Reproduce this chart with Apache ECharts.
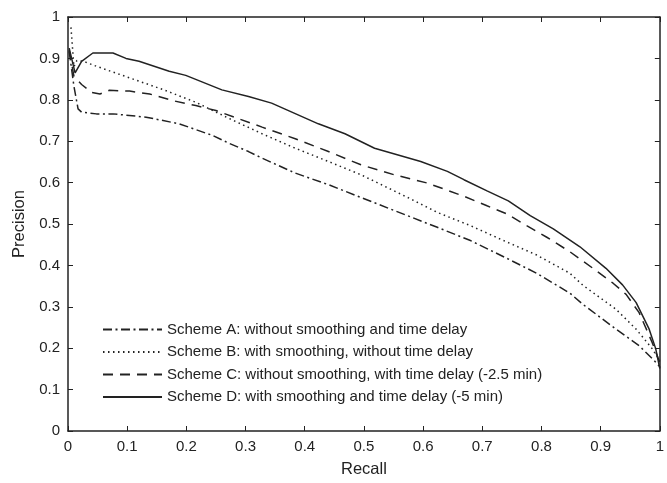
<!DOCTYPE html>
<html>
<head>
<meta charset="utf-8">
<script src="https://cdn.jsdelivr.net/npm/echarts@6/dist/echarts.min.js"></script>
<style>
  html, body { margin: 0; padding: 0; background: #fff; }
  #chart { width: 667px; height: 483px; }
</style>
</head>
<body>
<div id="chart"></div>
<script>
var tickLabelsX = ['0', '0.1', '0.2', '0.3', '0.4', '0.5', '0.6', '0.7', '0.8', '0.9', '1']
var tickLabelsY = ['0', '0.1', '0.2', '0.3', '0.4', '0.5', '0.6', '0.7', '0.8', '0.9', '1']

var seriesNames = [
  'Scheme A: without smoothing and time delay',
  'Scheme B: with smoothing, without time delay',
  'Scheme C: without smoothing, with time delay (-2.5 min)',
  'Scheme D: with smoothing and time delay (-5 min)'
]

var recallA = [0.002, 0.01, 0.017, 0.023, 0.048, 0.076, 0.132, 0.188, 0.244, 0.272, 0.305, 0.328, 0.384, 0.44, 0.495, 0.624, 0.68, 0.736, 0.792, 0.848, 0.87, 0.926, 0.965, 0.99, 1.0]
var precisionA = [0.917, 0.833, 0.778, 0.77, 0.766, 0.766, 0.758, 0.742, 0.714, 0.695, 0.675, 0.659, 0.623, 0.595, 0.564, 0.492, 0.46, 0.421, 0.381, 0.333, 0.306, 0.246, 0.206, 0.171, 0.155]

var recallB = [0.005, 0.01, 0.015, 0.026, 0.048, 0.104, 0.16, 0.216, 0.272, 0.328, 0.384, 0.44, 0.495, 0.574, 0.624, 0.68, 0.736, 0.792, 0.848, 0.87, 0.926, 0.96, 0.987, 1.0]
var precisionB = [0.975, 0.88, 0.895, 0.893, 0.881, 0.853, 0.825, 0.794, 0.755, 0.718, 0.683, 0.651, 0.619, 0.564, 0.528, 0.496, 0.46, 0.425, 0.381, 0.352, 0.294, 0.246, 0.199, 0.17]

var recallC = [0.002, 0.01, 0.023, 0.04, 0.054, 0.07, 0.104, 0.138, 0.177, 0.216, 0.25, 0.289, 0.328, 0.384, 0.44, 0.495, 0.551, 0.607, 0.669, 0.708, 0.742, 0.775, 0.809, 0.848, 0.887, 0.921, 0.943, 0.965, 0.987, 1.0]
var precisionC = [0.92, 0.857, 0.837, 0.818, 0.814, 0.823, 0.821, 0.814, 0.798, 0.786, 0.774, 0.754, 0.734, 0.706, 0.675, 0.643, 0.619, 0.599, 0.567, 0.544, 0.524, 0.496, 0.468, 0.433, 0.393, 0.357, 0.33, 0.286, 0.214, 0.165]

var recallD = [0.002, 0.012, 0.023, 0.042, 0.076, 0.098, 0.12, 0.171, 0.199, 0.26, 0.305, 0.344, 0.423, 0.468, 0.518, 0.596, 0.641, 0.669, 0.708, 0.744, 0.781, 0.82, 0.865, 0.909, 0.937, 0.96, 0.982, 0.993, 1.0]
var precisionD = [0.925, 0.865, 0.893, 0.913, 0.913, 0.9, 0.893, 0.869, 0.859, 0.824, 0.808, 0.792, 0.742, 0.718, 0.683, 0.651, 0.627, 0.607, 0.58, 0.556, 0.52, 0.488, 0.445, 0.393, 0.353, 0.31, 0.246, 0.199, 0.151]

function pairs (xs, ys) {
  return xs.map(function (x, i) { return [x, ys[i]] })
}

var ink = '#222'
var font = 'Liberation Sans, Arial, Helvetica, sans-serif'

function axisBase (show) {
  return {
    type: 'value',
    min: 0,
    max: 1,
    interval: 0.1,
    axisLine: { show: true, onZero: false, lineStyle: { color: ink, width: 1.5 } },
    axisTick: { show: true, inside: true, length: 5, lineStyle: { color: ink, width: 1 } },
    splitLine: { show: false },
    axisLabel: { show: show, color: ink, fontSize: 15, fontFamily: font, margin: 8 }
  }
}

var xBottom = axisBase(true)
xBottom.position = 'bottom'
xBottom.name = 'Recall'
xBottom.nameLocation = 'middle'
xBottom.nameGap = 30
xBottom.nameTextStyle = { color: ink, fontSize: 16.5, fontFamily: font }
xBottom.axisLabel.formatter = function (v) { return tickLabelsX[Math.round(v * 10)] }

var xTop = axisBase(false)
xTop.position = 'top'

var yLeft = axisBase(true)
yLeft.position = 'left'
yLeft.name = 'Precision'
yLeft.nameLocation = 'middle'
yLeft.nameGap = 40
yLeft.nameTextStyle = { color: ink, fontSize: 16.5, fontFamily: font }
yLeft.axisLabel.formatter = function (v) { return tickLabelsY[Math.round(v * 10)] }

var yRight = axisBase(false)
yRight.position = 'right'

var dashes = [[9, 3.5, 2, 3.5], [1.5, 3.5], [10, 7], 'solid']
var data = [
  pairs(recallA, precisionA),
  pairs(recallB, precisionB),
  pairs(recallC, precisionC),
  pairs(recallD, precisionD)
]

var chart = echarts.init(document.getElementById('chart'))
chart.setOption({
  animation: false,
  backgroundColor: '#fff',
  grid: { left: 68, right: 4, top: 17, bottom: 46 },
  xAxis: [xBottom, xTop],
  yAxis: [yLeft, yRight],
  legend: {
    orient: 'vertical',
    left: 97,
    top: 317,
    itemWidth: 59,
    itemHeight: 14,
    itemGap: 7.5,
    itemStyle: { opacity: 0 },
    textStyle: { color: ink, fontSize: 15, fontFamily: font, lineHeight: 15 },
    data: seriesNames
  },
  series: seriesNames.map(function (name, i) {
    return {
      name: name,
      type: 'line',
      xAxisIndex: 0,
      yAxisIndex: 0,
      symbol: 'none',
      smooth: false,
      lineStyle: { color: ink, width: 1.5, type: dashes[i] },
      itemStyle: { color: ink },
      data: data[i]
    }
  })
})
</script>
</body>
</html>
